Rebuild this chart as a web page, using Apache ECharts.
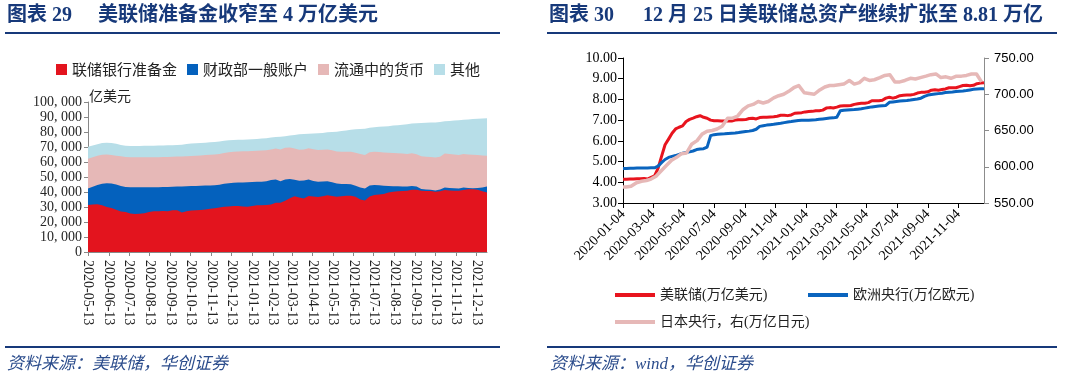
<!DOCTYPE html>
<html><head><meta charset="utf-8">
<script src="https://cdn.jsdelivr.net/npm/echarts@6/dist/echarts.min.js"></script>
<style>html,body{margin:0;padding:0;background:#fff}#c{width:1066px;height:381px}</style>
</head><body><div id="c"></div>
<script>
// ---------- 图表 29 (亿美元), weekly from 2020-05-13 ----------
const leftStart = '2020-05-13';
const reserves = [31300,31600,31800,31200,30000,29300,28200,27000,26600,25700,
25300,25500,25900,26700,27100,27200,27400,27200,27800,27900,
26300,27200,27600,27800,28000,28400,28900,29200,29600,30100,
30400,30600,30700,30400,30200,30700,31100,31200,31300,31700,
32800,32900,34200,35900,37200,36400,35700,37300,37000,36600,
37200,37800,37400,36900,37100,37500,37500,36900,35000,34300,
37000,38000,38400,38700,39600,40200,40500,40700,40900,41500,
41500,40800,40600,40600,40200,40500,41300,41000,40900,40900,
41400,41800,41900,41500,40500,39600];
const tga = [11100,11900,12800,14300,15800,16300,16800,17000,16800,17500,
17800,17600,17300,16500,16000,16000,15900,16200,15700,15700,
17400,16700,16400,16200,16100,15900,15500,15300,15200,15400,
15500,15600,15600,16000,16300,16000,15700,15700,15800,16300,
15600,14300,14200,12700,11000,11100,11900,11100,10400,10300,
9800,9400,9100,8700,8200,7800,7700,7300,8000,8100,
7300,6700,6100,5400,4400,3700,3300,3000,2700,2500,
2100,1200,1000,900,800,1100,1700,1600,1600,1500,
1600,900,600,1200,2500,4000];
const currency = [19800,19700,19600,19400,19200,19000,19200,19800,20000,20000,
20000,20000,20000,20000,20000,20000,20000,20000,20000,20000,
19900,19900,20000,20200,20300,20300,20400,20500,20600,20500,
20600,20700,20700,20700,20700,20600,20700,20800,20800,20400,
20600,21100,21100,21000,20800,20700,20800,20700,21100,21100,
21200,21200,21300,21400,21600,21600,21600,21900,22300,22300,
22200,22200,22100,22200,22200,22100,22000,21900,21700,21800,
21600,21900,21900,21800,22000,21900,22600,22800,22500,22300,
22300,22300,22300,21900,21400,20600];
const other = [8000,7800,7600,7700,7900,8000,8000,7600,7500,7400,
7500,7600,7600,7600,7800,7800,7700,7700,7700,7700,
7900,8200,8400,8300,8300,8300,8300,8300,8200,8100,
8000,7800,7800,7800,7800,7800,7800,7900,8000,7900,
7600,8600,7700,8000,9000,10300,10300,9800,10500,11100,
11200,11400,12200,13200,13700,14100,14700,15700,16700,17500,
16300,16300,16900,17400,17700,18300,18700,19200,19900,19800,
20600,22100,22600,23000,23400,23200,21500,22000,22600,23100,
22900,23400,23800,24200,24600,24900];
const leftNames = ['联储银行准备金','财政部一般账户','流通中的货币','其他'];
const leftTicks = ['2020-05-13','2020-06-13','2020-07-13','2020-08-13','2020-09-13','2020-10-13','2020-11-13','2020-12-13',
'2021-01-13','2021-02-13','2021-03-13','2021-04-13','2021-05-13','2021-06-13','2021-07-13','2021-08-13','2021-09-13',
'2021-10-13','2021-11-13','2021-12-13'];

// ---------- 图表 30, weekly from 2020-01-04 ----------
const rightStart = '2020-01-04';
const fed = [4.150,4.148,4.157,4.158,4.171,4.175,4.178,4.159,4.241,4.312,
4.668,5.254,5.811,6.084,6.368,6.574,6.656,6.723,6.934,7.037,
7.097,7.166,7.215,7.137,7.092,7.001,6.969,6.968,6.959,6.958,
6.964,6.956,7.006,7.020,7.015,7.025,7.080,7.094,7.059,7.124,
7.135,7.141,7.150,7.162,7.190,7.236,7.237,7.218,7.251,7.334,
7.350,7.362,7.398,7.414,7.424,7.455,7.455,7.484,7.581,7.605,
7.588,7.629,7.682,7.697,7.692,7.705,7.760,7.793,7.815,7.817,
7.845,7.937,7.935,7.941,7.962,8.064,8.102,8.061,8.106,8.178,
8.203,8.208,8.215,8.243,8.307,8.342,8.343,8.367,8.444,8.468,
8.447,8.476,8.507,8.564,8.565,8.565,8.618,8.674,8.680,8.661,
8.683,8.757,8.788,8.810];
const ecb = [4.67,4.67,4.68,4.68,4.69,4.69,4.69,4.69,4.70,4.70,
4.78,4.95,5.10,5.20,5.25,5.29,5.35,5.40,5.44,5.47,
5.51,5.58,5.61,5.62,5.70,6.25,6.30,6.32,6.33,6.34,
6.36,6.37,6.38,6.40,6.43,6.45,6.47,6.50,6.56,6.70,
6.73,6.76,6.78,6.80,6.83,6.85,6.88,6.91,6.93,6.96,
6.98,6.99,7.00,7.00,7.01,7.02,7.04,7.06,7.08,7.10,
7.11,7.14,7.45,7.48,7.49,7.50,7.51,7.53,7.55,7.58,
7.61,7.64,7.66,7.68,7.70,7.71,7.86,7.88,7.90,7.92,
7.94,7.95,7.97,8.00,8.02,8.06,8.15,8.21,8.24,8.26,
8.28,8.30,8.33,8.35,8.36,8.38,8.40,8.41,8.43,8.46,
8.49,8.50,8.51,8.52];
const bojDates = ['2020-01-04','2020-01-10','2020-01-20','2020-01-31','2020-02-10','2020-02-20','2020-02-29',
'2020-03-10','2020-03-20','2020-03-31','2020-04-10','2020-04-20','2020-04-30','2020-05-10','2020-05-20','2020-05-31',
'2020-06-10','2020-06-20','2020-06-30','2020-07-10','2020-07-20','2020-07-31','2020-08-10','2020-08-20','2020-08-31',
'2020-09-10','2020-09-20','2020-09-30','2020-10-10','2020-10-20','2020-10-31','2020-11-10','2020-11-20','2020-11-30',
'2020-12-10','2020-12-20','2020-12-31','2021-01-10','2021-01-20','2021-01-31','2021-02-10','2021-02-20','2021-02-28',
'2021-03-10','2021-03-20','2021-03-31','2021-04-10','2021-04-20','2021-04-30','2021-05-10','2021-05-20','2021-05-31',
'2021-06-10','2021-06-20','2021-06-30','2021-07-10','2021-07-20','2021-07-31','2021-08-10','2021-08-20','2021-08-31',
'2021-09-10','2021-09-20','2021-09-30','2021-10-10','2021-10-20','2021-10-31','2021-11-10','2021-11-20','2021-11-30',
'2021-12-10','2021-12-20'];
const boj = [572,572,573,578,580,581,583,
587,594,602,609,613,618,619,631,636,
645,649,650,652,656,667,667,670,679,
684,686,690,688,690,695,698,700,704,
709,712,702,701,700,706,710,712,712,
713,714,719,714,716,722,719,720,723,
726,727,717,717,719,722,721,723,725,
727,728,723,724,722,725,725,726,728,
728,717];
const rightNames = ['美联储(万亿美元)','欧洲央行(万亿欧元)','日本央行，右(万亿日元)'];
const rightTicks = ['2020-01-04','2020-03-04','2020-05-04','2020-07-04','2020-09-04','2020-11-04',
'2021-01-04','2021-03-04','2021-05-04','2021-07-04','2021-09-04','2021-11-04'];

// ---------- helpers ----------
function ts(s){const p=s.split('-').map(Number);return new Date(p[0],p[1]-1,p[2]).getTime();}
function weekly(s,n){const p=s.split('-').map(Number);const out=[];for(let i=0;i<n;i++)out.push(new Date(p[0],p[1]-1,p[2]+7*i).getTime());return out;}
function pad(n){return n<10?'0'+n:''+n;}
function fmt(t){const d=new Date(t);return d.getFullYear()+'-'+pad(d.getMonth()+1)+'-'+pad(d.getDate());}
const leftDates = weekly(leftStart, reserves.length);
const rightDates = weekly(rightStart, fed.length);

const SERIF='"Liberation Serif","Noto Sans CJK SC",serif';
const CJK='"Noto Sans CJK SC",sans-serif';
const NAVY='#17397a';
const leftColors=['#E3141E','#0461BD','#E6B8B7','#B7DEE8'];
const leftVals=[reserves,tga,currency,other];
// cumulative tops of each stacked layer (stacking done here)
const cum=[];
leftVals.forEach((arr,k)=>{cum.push(arr.map((v,i)=>v+(k?cum[k-1][i]:0)));});
const leftSeries=[];
for(let k=leftVals.length-1;k>=0;k--){
  leftSeries.push({type:'line', name:leftNames[k], xAxisIndex:0, yAxisIndex:0,
    data:leftDates.map((t,i)=>[t,cum[k][i]]),
    showSymbol:false, symbol:'none',
    lineStyle:{width:0}, itemStyle:{color:leftColors[k]},
    areaStyle:{color:leftColors[k], opacity:1}});
}

const chart = echarts.init(document.getElementById('c'));
const option = {
  animation:false,
  backgroundColor:'#fff',
  grid:[
    {left:88, top:102, width:399, height:150, outerBoundsMode:'none'},
    {left:623, top:58, width:361, height:145, outerBoundsMode:'none'}
  ],
  legend:[
    {data:leftNames, left:51, top:57, icon:'rect', itemWidth:11, itemHeight:11, itemGap:10,
     textStyle:{fontSize:15, fontFamily:CJK, color:'#222'}},
    {data:[rightNames[0]], left:610, top:283, icon:'rect', itemWidth:40, itemHeight:4,
     textStyle:{fontSize:14, fontFamily:SERIF, color:'#222'}},
    {data:[rightNames[1]], left:803, top:283, icon:'rect', itemWidth:40, itemHeight:4,
     textStyle:{fontSize:14, fontFamily:SERIF, color:'#222'}},
    {data:[rightNames[2]], left:610, top:310, icon:'rect', itemWidth:40, itemHeight:4,
     textStyle:{fontSize:14, fontFamily:SERIF, color:'#222'}}
  ],
  xAxis:[
    {type:'value', gridIndex:0, min:ts(leftStart), max:leftDates[leftDates.length-1], scale:true,
     axisLine:{lineStyle:{color:'#888'}},
     axisTick:{show:true, length:4, lineStyle:{color:'#888'}, customValues:leftTicks.map(ts)},
     axisLabel:{rotate:-90, margin:8, fontSize:14, fontFamily:SERIF, color:'#222',
       customValues:leftTicks.map(ts), formatter:v=>fmt(v)},
     splitLine:{show:false}},
    {type:'value', gridIndex:1, min:ts(rightStart), max:rightDates[rightDates.length-1], scale:true,
     axisLine:{lineStyle:{color:'#000'}},
     axisTick:{show:true, length:5, lineStyle:{color:'#000'}, customValues:rightTicks.map(ts)},
     axisLabel:{rotate:45, margin:9, fontSize:14, fontFamily:SERIF, color:'#000',
       customValues:rightTicks.map(ts), formatter:v=>fmt(v)},
     splitLine:{show:false}}
  ],
  yAxis:[
    {type:'value', gridIndex:0, min:0, max:100000, interval:10000,
     axisLine:{show:true, lineStyle:{color:'#888'}},
     axisTick:{show:true, length:4, lineStyle:{color:'#888'}},
     axisLabel:{margin:6, fontSize:14, fontFamily:SERIF, color:'#262626',
       formatter:v=>v===0?'0':(v/1000)+', 000'},
     splitLine:{show:false}},
    {type:'value', gridIndex:1, min:3, max:10, interval:1,
     axisLine:{show:true, lineStyle:{color:'#000'}},
     axisTick:{show:true, length:5, lineStyle:{color:'#000'}},
     axisLabel:{margin:6, fontSize:14, fontFamily:SERIF, color:'#000', formatter:v=>v.toFixed(2)},
     splitLine:{show:false}},
    {type:'value', gridIndex:1, position:'right', min:550, max:750, interval:50,
     axisLine:{show:true, lineStyle:{color:'#8c8c8c'}},
     axisTick:{show:true, length:5, lineStyle:{color:'#8c8c8c'}},
     axisLabel:{margin:10, fontSize:13, fontFamily:'"Liberation Sans",sans-serif', color:'#000', formatter:v=>v.toFixed(2)},
     splitLine:{show:false}}
  ],
  series:[
    ...leftSeries,
    {type:'line', name:rightNames[0], xAxisIndex:1, yAxisIndex:1,
     data:rightDates.map((t,i)=>[t,fed[i]]), showSymbol:false, symbol:'none',
     lineStyle:{width:3, color:'#E8141E', join:'round'}, itemStyle:{color:'#E8141E'}},
    {type:'line', name:rightNames[1], xAxisIndex:1, yAxisIndex:1,
     data:rightDates.map((t,i)=>[t,ecb[i]]), showSymbol:false, symbol:'none',
     lineStyle:{width:3, color:'#0A64BE', join:'round'}, itemStyle:{color:'#0A64BE'}},
    {type:'line', name:rightNames[2], xAxisIndex:1, yAxisIndex:2,
     data:bojDates.map((d,i)=>[ts(d),boj[i]]), showSymbol:false, symbol:'none',
     lineStyle:{width:3.5, color:'#E6B8B7', join:'round'}, itemStyle:{color:'#E6B8B7'}}
  ],
  graphic:[
    {type:'text', left:7, top:6, style:{text:'图表 29', font:'bold 20px '+SERIF, fill:NAVY}},
    {type:'text', left:98, top:6, style:{text:'美联储准备金收窄至 4 万亿美元', font:'bold 20px '+SERIF, fill:NAVY}},
    {type:'rect', shape:{x:5, y:32, width:495, height:2}, style:{fill:NAVY}},
    {type:'text', left:89, top:89, style:{text:'亿美元', font:'14px '+CJK, fill:'#222'}},
    {type:'rect', shape:{x:5, y:346, width:495, height:2}, style:{fill:NAVY}},
    {type:'text', left:7, top:356, style:{text:'资料来源：美联储，华创证券', font:'italic 17px '+SERIF, fill:'#2b4c8c'}},
    {type:'text', left:549, top:6, style:{text:'图表 30', font:'bold 20px '+SERIF, fill:NAVY}},
    {type:'text', left:643, top:6, style:{text:'12 月 25 日美联储总资产继续扩张至 8.81 万亿', font:'bold 20px '+SERIF, fill:NAVY}},
    {type:'rect', shape:{x:547, y:32, width:510, height:2}, style:{fill:NAVY}},
    {type:'rect', shape:{x:547, y:346, width:510, height:2}, style:{fill:NAVY}},
    {type:'text', left:550, top:356, style:{text:'资料来源：wind，华创证券', font:'italic 17px '+SERIF, fill:'#2b4c8c'}}
  ]
};
chart.setOption(option);
</script></body></html>
